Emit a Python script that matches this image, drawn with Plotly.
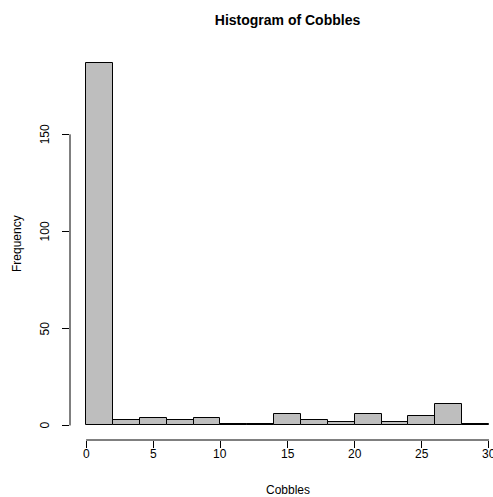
import plotly.graph_objects as go

bin_edges = [0, 2, 4, 6, 8, 10, 12, 14, 16, 18, 20, 22, 24, 26, 28, 30]
counts = [187, 3, 4, 3, 4, 1, 1, 6, 3, 2, 6, 2, 5, 11, 1]
x_ticks = [0, 5, 10, 15, 20, 25, 30]
y_ticks = [0, 50, 100, 150]

centers = [(a + b) / 2 for a, b in zip(bin_edges[:-1], bin_edges[1:])]
widths = [b - a for a, b in zip(bin_edges[:-1], bin_edges[1:])]

FONT = "Liberation Sans, Arial, Helvetica, sans-serif"
W, H = 493, 497
ML, MR, MT, MB = 70, 0, 48, 57
PW, PH = W - ML - MR, H - MT - MB

fig = go.Figure()
fig.add_trace(go.Bar(
    x=centers, y=counts, width=widths,
    marker=dict(color="#bebebe", line=dict(color="black", width=1)),
    hoverinfo="x+y",
))

ymax = max(counts)
fig.update_layout(
    width=W, height=H,
    margin=dict(l=ML, r=MR, t=MT, b=MB),
    paper_bgcolor="white", plot_bgcolor="white",
    showlegend=False,
    bargap=0,
    font=dict(family=FONT, size=12, color="black"),
    title=dict(text="<b>Histogram of Cobbles</b>", x=287.5 / W, xref="container",
               xanchor="center", y=1 - 20 / H, yanchor="middle",
               font=dict(size=14, family=FONT)),
    xaxis=dict(range=[-1.2, 30.3], tickvals=x_ticks, ticks="outside", ticklen=7,
               tickcolor="black", showgrid=False, zeroline=False, showline=False,
               showticklabels=False),
    yaxis=dict(range=[-0.04 * ymax, 1.04 * ymax], tickvals=y_ticks, ticks="outside",
               ticklen=7, tickcolor="black", showgrid=False, zeroline=False,
               showline=False, showticklabels=False),
)
# axis lines (R style, spanning tick range only)
fig.add_shape(type="line", xref="x", yref="paper", x0=x_ticks[0], x1=x_ticks[-1], y0=0, y1=0,
              line=dict(color="black", width=1))
fig.add_shape(type="line", xref="paper", yref="y", x0=0, x1=0, y0=y_ticks[0], y1=y_ticks[-1],
              line=dict(color="black", width=1))
# tick labels
for v in x_ticks:
    fig.add_annotation(text=str(v), xref="x", x=v, yref="paper", y=-(454 - (H - MB)) / PH,
                       xanchor="center", yanchor="middle", showarrow=False, font=dict(size=12))
for v in y_ticks:
    fig.add_annotation(text=str(v), xref="paper", x=-(ML - 45) / PW, yref="y", y=v,
                       xanchor="center", yanchor="middle", textangle=-90, showarrow=False,
                       font=dict(size=12))
fig.add_annotation(text="Cobbles", xref="x", x=15, yref="paper", y=-(490 - (H - MB)) / PH,
                   yanchor="middle", showarrow=False, font=dict(size=12))
fig.add_annotation(text="Frequency", xref="paper", x=-(ML - 17) / PW, xanchor="center",
                   yref="y", y=ymax / 2, textangle=-90, showarrow=False, font=dict(size=12))

fig.write_html("out.html")
